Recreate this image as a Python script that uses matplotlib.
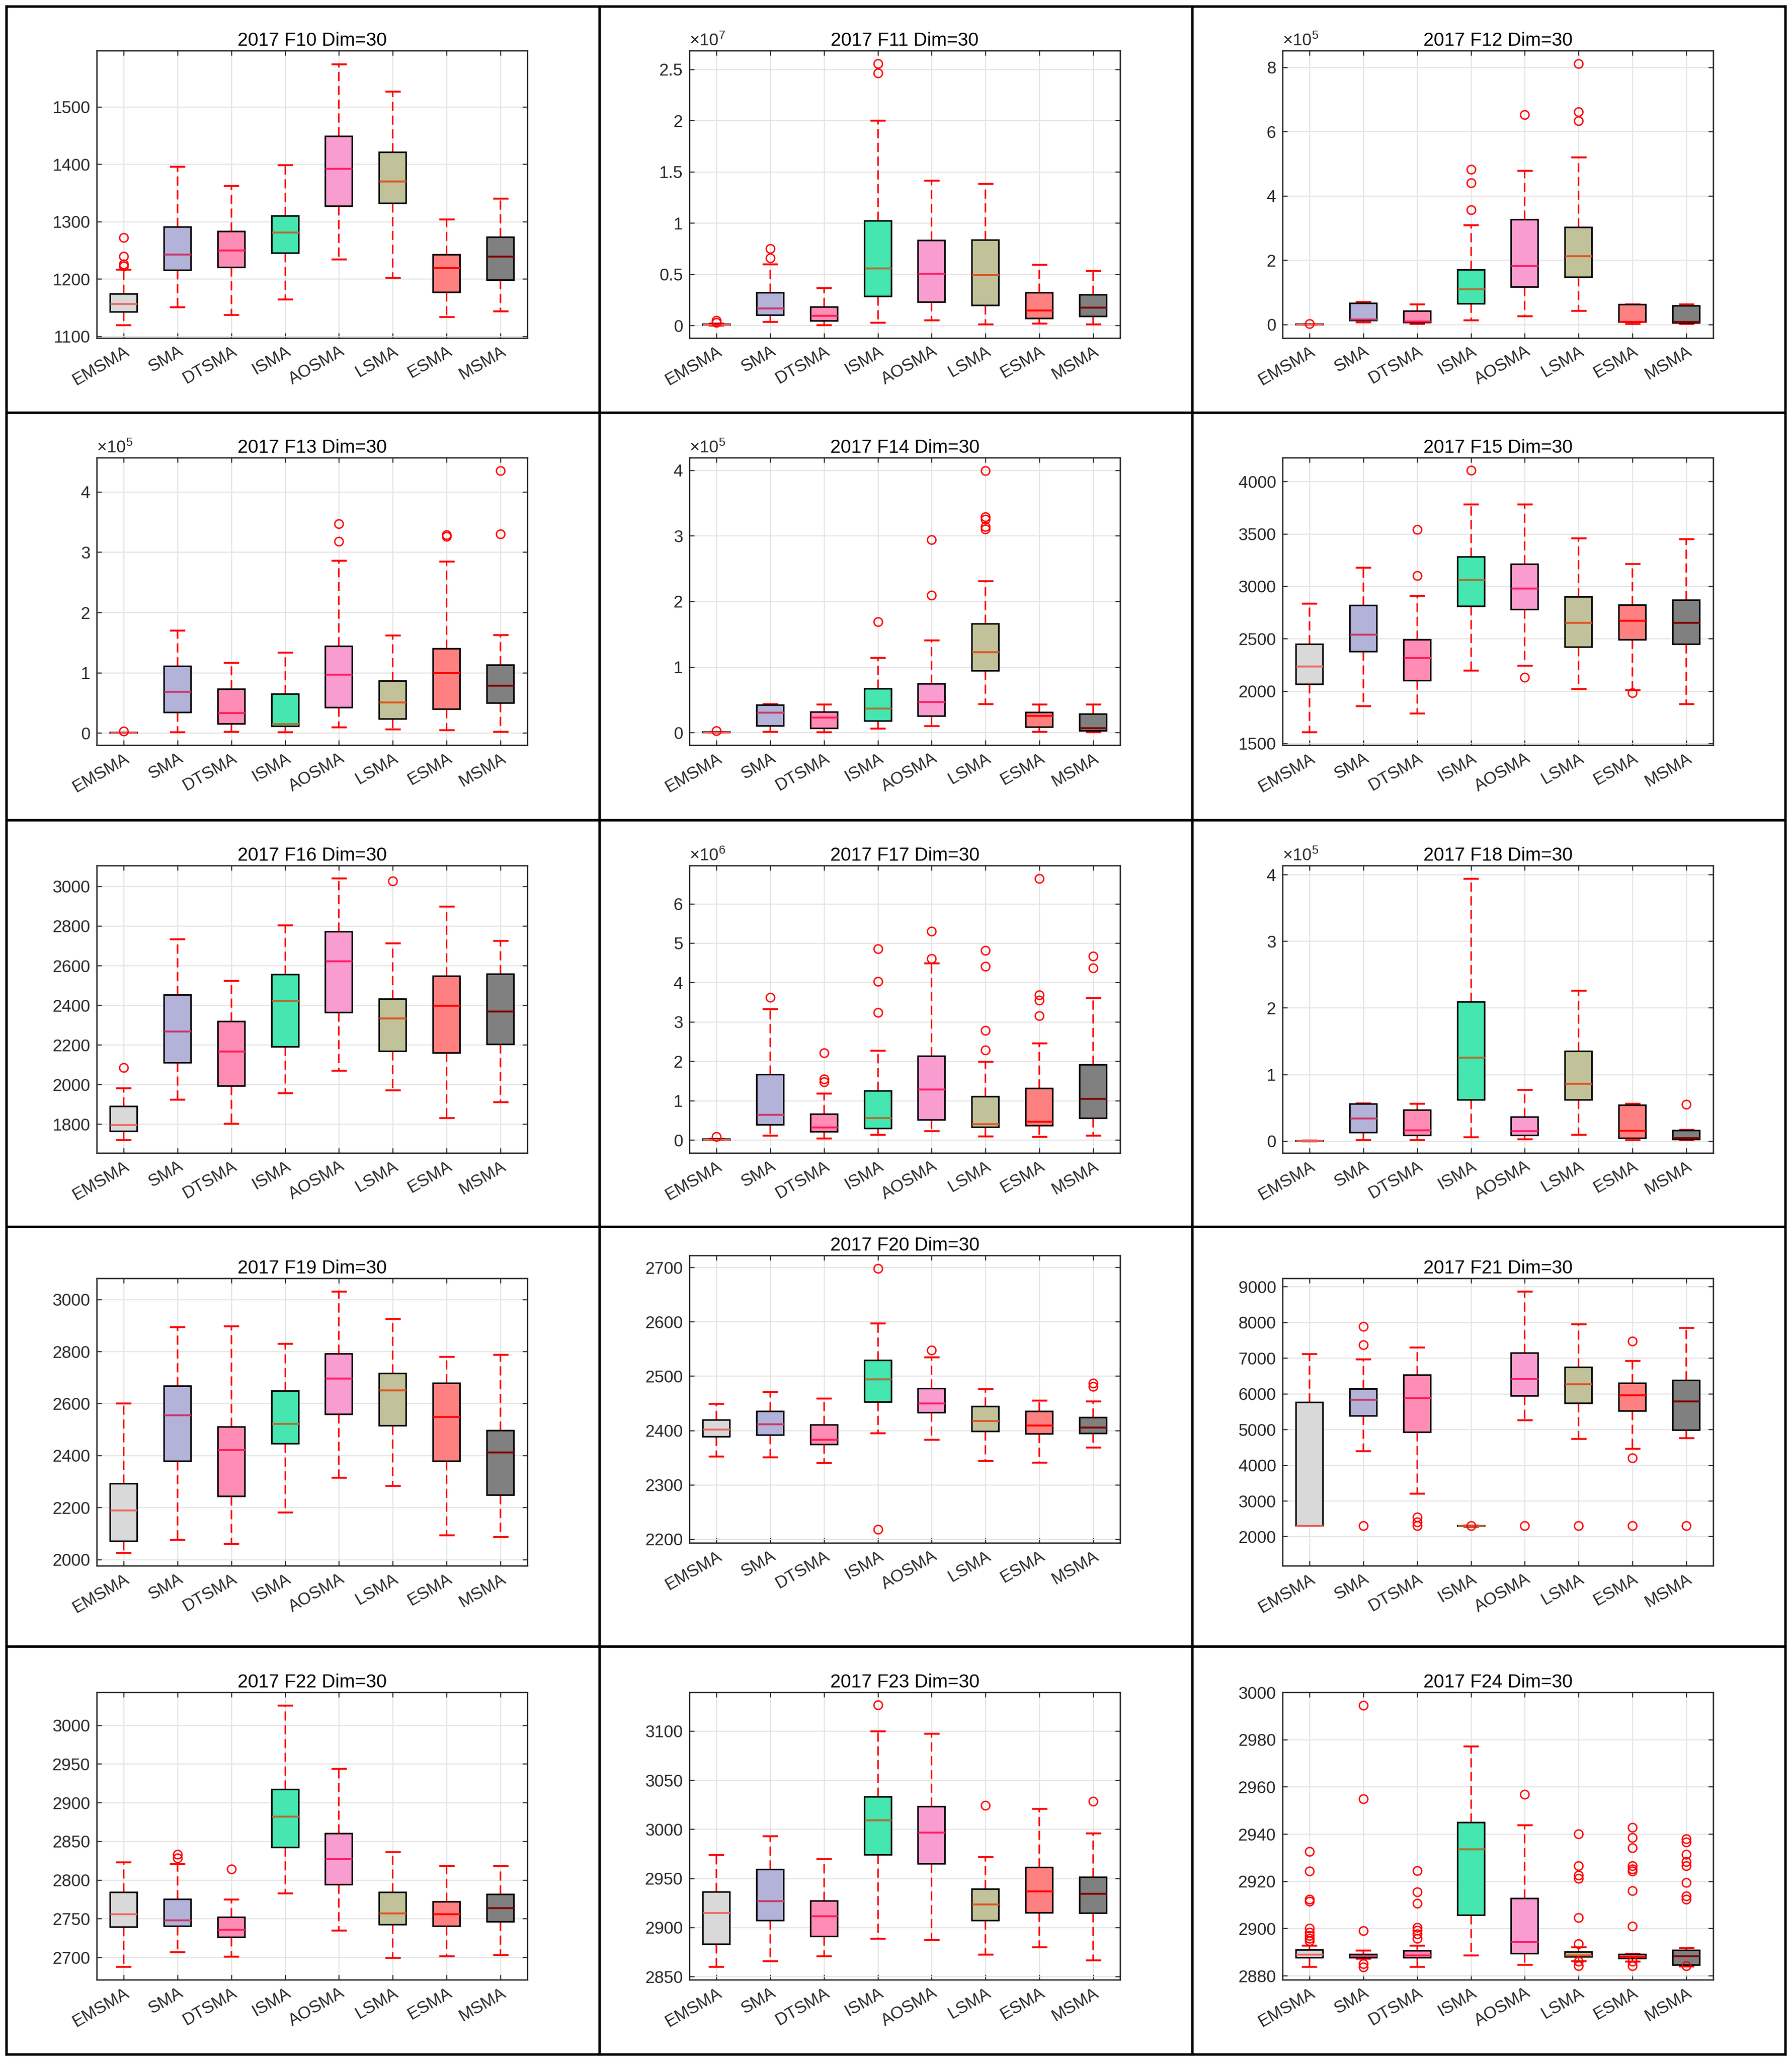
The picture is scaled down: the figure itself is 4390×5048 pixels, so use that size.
import matplotlib
matplotlib.use('Agg')
import matplotlib.pyplot as plt
from matplotlib.lines import Line2D
from matplotlib.transforms import ScaledTranslation
from matplotlib.ticker import FuncFormatter, FixedLocator

plt.rcParams['font.family'] = ['Liberation Sans', 'DejaVu Sans']
plt.rcParams['mathtext.fontset'] = 'custom'
plt.rcParams['mathtext.rm'] = 'Liberation Sans'
plt.rcParams['mathtext.it'] = 'Liberation Sans:italic'

ALGOS = ['EMSMA', 'SMA', 'DTSMA', 'ISMA', 'AOSMA', 'LSMA', 'ESMA', 'MSMA']
FILL = ['#d9d9d9', '#b3b3d9', '#ff8cb4', '#45e6b0', '#f99ccf', '#c2c29a', '#ff8080', '#808080']
MEDC = ['#f0645f', '#cc3366', '#ff1a50', '#b36b2e', '#ff1a66', '#e05020', '#ff0000', '#800000']

# ---------------- data ----------------
F10_LO = [1119.7, 1150.8, 1137.5, 1164.5, 1234.6, 1202, 1134, 1144]
F10_Q1 = [1142.6, 1215.3, 1220, 1245, 1327, 1332, 1176.4, 1198]
F10_MED = [1156.8, 1242.8, 1250, 1281, 1392, 1370, 1219.5, 1239.6]
F10_Q3 = [1173.7, 1290.4, 1283, 1310, 1448.7, 1420.8, 1242.3, 1273]
F10_HI = [1216.7, 1396, 1362.7, 1398.4, 1574.6, 1526.5, 1304, 1340.3]
F10_OUT = [[1272, 1239, 1226, 1222], [], [], [], [], [], [], []]

F11_LO = [0.002e7, 0.037e7, 0.006e7, 0.028e7, 0.055e7, 0.014e7, 0.02e7, 0.014e7]
F11_Q1 = [0.005e7, 0.10e7, 0.047e7, 0.285e7, 0.23e7, 0.197e7, 0.071e7, 0.088e7]
F11_MED = [0.008e7, 0.17e7, 0.096e7, 0.56e7, 0.507e7, 0.495e7, 0.147e7, 0.177e7]
F11_Q3 = [0.012e7, 0.32e7, 0.18e7, 1.02e7, 0.83e7, 0.835e7, 0.32e7, 0.30e7]
F11_HI = [0.02e7, 0.60e7, 0.37e7, 2.0e7, 1.415e7, 1.384e7, 0.597e7, 0.537e7]
F11_OUT = [[0.05e7, 0.03e7], [0.75e7, 0.66e7], [], [2.555e7, 2.463e7], [], [], [], []]

F12_LO = [0.0, 0.08e5, 0.02e5, 0.14e5, 0.26e5, 0.435e5, 0.02e5, 0.02e5]
F12_Q1 = [0.002e5, 0.13e5, 0.065e5, 0.65e5, 1.17e5, 1.47e5, 0.08e5, 0.05e5]
F12_MED = [0.004e5, 0.16e5, 0.10e5, 1.10e5, 1.83e5, 2.13e5, 0.09e5, 0.085e5]
F12_Q3 = [0.008e5, 0.66e5, 0.42e5, 1.70e5, 3.26e5, 3.02e5, 0.62e5, 0.58e5]
F12_HI = [0.012e5, 0.71e5, 0.64e5, 3.10e5, 4.79e5, 5.20e5, 0.64e5, 0.64e5]
F12_OUT = [[0.02e5], [], [], [4.83e5, 4.41e5, 3.57e5], [6.52e5], [8.11e5, 6.62e5, 6.33e5], [], []]

F13_LO = [0.0, 0.014e5, 0.024e5, 0.014e5, 0.10e5, 0.066e5, 0.052e5, 0.024e5]
F13_Q1 = [0.002e5, 0.34e5, 0.15e5, 0.11e5, 0.42e5, 0.23e5, 0.394e5, 0.50e5]
F13_MED = [0.004e5, 0.69e5, 0.335e5, 0.15e5, 0.974e5, 0.51e5, 1.0e5, 0.79e5]
F13_Q3 = [0.008e5, 1.11e5, 0.73e5, 0.646e5, 1.44e5, 0.864e5, 1.40e5, 1.13e5]
F13_HI = [0.012e5, 1.70e5, 1.17e5, 1.34e5, 2.86e5, 1.62e5, 2.85e5, 1.63e5]
F13_OUT = [[0.03e5], [], [], [], [3.47e5, 3.18e5], [], [3.29e5, 3.26e5], [4.35e5, 3.30e5]]

F14_LO = [0.0, 0.016e5, 0.01e5, 0.063e5, 0.105e5, 0.44e5, 0.016e5, 0.01e5]
F14_Q1 = [0.002e5, 0.10e5, 0.063e5, 0.175e5, 0.254e5, 0.943e5, 0.086e5, 0.025e5]
F14_MED = [0.004e5, 0.31e5, 0.23e5, 0.37e5, 0.47e5, 1.23e5, 0.26e5, 0.07e5]
F14_Q3 = [0.008e5, 0.42e5, 0.317e5, 0.667e5, 0.746e5, 1.657e5, 0.31e5, 0.28e5]
F14_HI = [0.012e5, 0.44e5, 0.43e5, 1.14e5, 1.41e5, 2.31e5, 0.43e5, 0.43e5]
F14_OUT = [[0.03e5], [], [], [1.69e5], [2.94e5, 2.095e5], [3.99e5, 3.29e5, 3.25e5, 3.14e5, 3.10e5], [], []]

F15_LO = [1607, 1858, 1786, 2196, 2245, 2021, 2009, 1878]
F15_Q1 = [2064, 2378, 2100, 2810, 2776, 2418, 2488, 2448]
F15_MED = [2235, 2541, 2319, 3062, 2979, 2651, 2671, 2653]
F15_Q3 = [2446, 2816, 2490, 3281, 3209, 2899, 2820, 2869]
F15_HI = [2835, 3177, 2911, 3783, 3781, 3461, 3213, 3450]
F15_OUT = [[], [], [3541, 3102], [4107], [2130], [], [1981], []]

F16_LO = [1720, 1925, 1802, 1958, 2070, 1972, 1831, 1912]
F16_Q1 = [1764, 2110, 1991, 2189, 2362, 2167, 2159, 2203]
F16_MED = [1796, 2268, 2167, 2422, 2622, 2335, 2398, 2369]
F16_Q3 = [1888, 2452, 2318, 2554, 2772, 2430, 2547, 2556]
F16_HI = [1982, 2733, 2523, 2805, 3041, 2714, 2899, 2726]
F16_OUT = [[2084], [], [], [], [], [3026], [], []]

F17_LO = [0.0, 0.12e6, 0.04e6, 0.14e6, 0.23e6, 0.10e6, 0.08e6, 0.12e6]
F17_Q1 = [0.005e6, 0.39e6, 0.21e6, 0.29e6, 0.51e6, 0.32e6, 0.36e6, 0.55e6]
F17_MED = [0.01e6, 0.64e6, 0.32e6, 0.56e6, 1.29e6, 0.41e6, 0.47e6, 1.05e6]
F17_Q3 = [0.02e6, 1.66e6, 0.65e6, 1.25e6, 2.13e6, 1.10e6, 1.31e6, 1.91e6]
F17_HI = [0.03e6, 3.33e6, 1.18e6, 2.27e6, 4.49e6, 1.99e6, 2.46e6, 3.61e6]
F17_OUT = [[0.08e6], [3.62e6], [2.21e6, 1.55e6, 1.47e6], [4.85e6, 4.03e6, 3.24e6],
           [5.30e6, 4.61e6], [4.81e6, 4.41e6, 2.78e6, 2.28e6],
           [6.64e6, 3.68e6, 3.55e6, 3.15e6], [4.67e6, 4.37e6]]

F18_LO = [0.0, 0.02e5, 0.02e5, 0.063e5, 0.031e5, 0.097e5, 0.02e5, 0.016e5]
F18_Q1 = [0.002e5, 0.128e5, 0.088e5, 0.62e5, 0.088e5, 0.62e5, 0.04e5, 0.025e5]
F18_MED = [0.004e5, 0.34e5, 0.166e5, 1.255e5, 0.15e5, 0.864e5, 0.156e5, 0.05e5]
F18_Q3 = [0.008e5, 0.557e5, 0.463e5, 2.09e5, 0.36e5, 1.346e5, 0.54e5, 0.16e5]
F18_HI = [0.012e5, 0.57e5, 0.563e5, 3.94e5, 0.77e5, 2.26e5, 0.563e5, 0.17e5]
F18_OUT = [[], [], [], [], [], [], [], [0.55e5]]

F19_LO = [2027, 2076, 2061, 2181, 2315, 2283, 2094, 2087]
F19_Q1 = [2070, 2378, 2243, 2445, 2559, 2515, 2378, 2248]
F19_MED = [2190, 2555, 2421, 2523, 2697, 2651, 2549, 2412]
F19_Q3 = [2292, 2666, 2510, 2648, 2791, 2715, 2677, 2496]
F19_HI = [2600, 2894, 2897, 2830, 3031, 2925, 2780, 2787]
F19_OUT = [[], [], [], [], [], [], [], []]

F20_LO = [2352.5, 2351, 2340, 2395, 2383, 2344, 2341, 2369]
F20_Q1 = [2388, 2391, 2374, 2452, 2433, 2398, 2394, 2394.6]
F20_MED = [2401.6, 2412, 2383, 2494, 2450, 2418, 2409.5, 2405.6]
F20_Q3 = [2419, 2435, 2410, 2529, 2477, 2444, 2435, 2424]
F20_HI = [2449, 2471, 2459, 2597, 2535, 2476, 2455, 2453.5]
F20_OUT = [[], [], [], [2698, 2218], [2548], [], [], [2487, 2481]]

F21_LO = [2300, 4399, 3211, 2285, 5270, 4733, 4459, 4757]
F21_Q1 = [2300, 5384, 4924, 2292, 5939, 5730, 5521, 4984]
F21_MED = [2300, 5831, 5879, 2300, 6416, 6273, 5957, 5790]
F21_Q3 = [5760, 6130, 6517, 2308, 7144, 6744, 6297, 6374]
F21_HI = [7120, 6971, 7305, 2315, 8869, 7956, 6923, 7848]
F21_OUT = [[], [7878, 7371, 2298], [2540, 2410, 2300], [2300], [2298], [2298],
           [7472, 4196, 2298], [2298]]

F22_LO = [2688, 2707, 2701, 2783, 2735, 2699.5, 2701.6, 2703]
F22_Q1 = [2739, 2740, 2726, 2842, 2794, 2742, 2740, 2746]
F22_MED = [2756, 2748, 2736, 2882, 2827, 2757, 2756, 2764]
F22_Q3 = [2784, 2775, 2752, 2917, 2860, 2784, 2772, 2781.5]
F22_HI = [2823, 2821, 2775, 3025.5, 2944, 2836, 2818, 2818]
F22_OUT = [[], [2833, 2828], [2814], [], [], [], [], []]

F23_LO = [2860, 2866, 2871, 2888.6, 2887.5, 2872.7, 2880, 2866.8]
F23_Q1 = [2883, 2907, 2891, 2974, 2965, 2907, 2915, 2914.5]
F23_MED = [2915, 2927, 2911.5, 3009.5, 2997, 2923.6, 2937, 2934.6]
F23_Q3 = [2936, 2959, 2927, 3033, 3023, 2939, 2961, 2951]
F23_HI = [2974, 2993, 2970, 3100, 3097.5, 2972, 3021, 2996]
F23_OUT = [[], [], [], [3126.7], [], [3024.3], [], [3028.5]]

F24_LO = [2883.8, 2887.3, 2883.8, 2888.6, 2884.7, 2886.2, 2886, 2884]
F24_Q1 = [2887.7, 2887.7, 2887.7, 2905.6, 2889.3, 2887.9, 2887.3, 2884.5]
F24_MED = [2889, 2888.5, 2888.6, 2933.7, 2894.3, 2888.6, 2888.2, 2888.4]
F24_Q3 = [2891, 2889, 2890.6, 2944.8, 2912.7, 2890, 2889, 2890.8]
F24_HI = [2892.8, 2890.8, 2892.8, 2977.1, 2943.8, 2892.1, 2889.3, 2891.7]
F24_OUT = [[2932.6, 2924.3, 2912.4, 2911.5, 2900, 2898.3, 2897, 2895.7, 2894.8],
           [2994.4, 2954.9, 2899, 2885.1, 2883.6],
           [2924.5, 2915.5, 2910.6, 2900.5, 2899.2, 2897.7, 2895.7],
           [],
           [2956.7],
           [2940, 2926.5, 2922.5, 2921.2, 2904.6, 2893.5, 2886, 2884.2],
           [2942.8, 2938.4, 2934.2, 2926.5, 2925.2, 2924.3, 2915.9, 2901, 2886, 2884.2],
           [2937.9, 2936.6, 2931.3, 2928.2, 2926.5, 2919.4, 2913.7, 2912.4, 2884.2]]

# y-axis settings per panel: ticks, limits, exponent of the multiplier
F10_YT = [1100, 1200, 1300, 1400, 1500]; F10_YL = (1097, 1598); F10_EXP = 0
F11_YT = [0, 0.5e7, 1e7, 1.5e7, 2e7, 2.5e7]; F11_YL = (-0.122e7, 2.683e7); F11_EXP = 7
F12_YT = [0, 2e5, 4e5, 6e5, 8e5]; F12_YL = (-0.42e5, 8.52e5); F12_EXP = 5
F13_YT = [0, 1e5, 2e5, 3e5, 4e5]; F13_YL = (-0.2e5, 4.567e5); F13_EXP = 5
F14_YT = [0, 1e5, 2e5, 3e5, 4e5]; F14_YL = (-0.19e5, 4.19e5); F14_EXP = 5
F15_YT = [1500, 2000, 2500, 3000, 3500, 4000]; F15_YL = (1484, 4227); F15_EXP = 0
F16_YT = [1800, 2000, 2200, 2400, 2600, 2800, 3000]; F16_YL = (1654, 3105); F16_EXP = 0
F17_YT = [0, 1e6, 2e6, 3e6, 4e6, 5e6, 6e6]; F17_YL = (-0.33e6, 6.97e6); F17_EXP = 6
F18_YT = [0, 1e5, 2e5, 3e5, 4e5]; F18_YL = (-0.178e5, 4.135e5); F18_EXP = 5
F19_YT = [2000, 2200, 2400, 2600, 2800, 3000]; F19_YL = (1976, 3081); F19_EXP = 0
F20_YT = [2200, 2300, 2400, 2500, 2600, 2700]; F20_YL = (2193, 2722); F20_EXP = 0
F21_YT = [2000, 3000, 4000, 5000, 6000, 7000, 8000, 9000]; F21_YL = (1182, 9233); F21_EXP = 0
F22_YT = [2700, 2750, 2800, 2850, 2900, 2950, 3000]; F22_YL = (2671, 3042.5); F22_EXP = 0
F23_YT = [2850, 2900, 2950, 3000, 3050, 3100]; F23_YL = (2846.8, 3139.4); F23_EXP = 0
F24_YT = [2880, 2900, 2920, 2940, 2960, 2980, 3000]; F24_YL = (2878.3, 3000); F24_EXP = 0

PANELS = [
    ('F10', F10_LO, F10_Q1, F10_MED, F10_Q3, F10_HI, F10_OUT, F10_YT, F10_YL, F10_EXP),
    ('F11', F11_LO, F11_Q1, F11_MED, F11_Q3, F11_HI, F11_OUT, F11_YT, F11_YL, F11_EXP),
    ('F12', F12_LO, F12_Q1, F12_MED, F12_Q3, F12_HI, F12_OUT, F12_YT, F12_YL, F12_EXP),
    ('F13', F13_LO, F13_Q1, F13_MED, F13_Q3, F13_HI, F13_OUT, F13_YT, F13_YL, F13_EXP),
    ('F14', F14_LO, F14_Q1, F14_MED, F14_Q3, F14_HI, F14_OUT, F14_YT, F14_YL, F14_EXP),
    ('F15', F15_LO, F15_Q1, F15_MED, F15_Q3, F15_HI, F15_OUT, F15_YT, F15_YL, F15_EXP),
    ('F16', F16_LO, F16_Q1, F16_MED, F16_Q3, F16_HI, F16_OUT, F16_YT, F16_YL, F16_EXP),
    ('F17', F17_LO, F17_Q1, F17_MED, F17_Q3, F17_HI, F17_OUT, F17_YT, F17_YL, F17_EXP),
    ('F18', F18_LO, F18_Q1, F18_MED, F18_Q3, F18_HI, F18_OUT, F18_YT, F18_YL, F18_EXP),
    ('F19', F19_LO, F19_Q1, F19_MED, F19_Q3, F19_HI, F19_OUT, F19_YT, F19_YL, F19_EXP),
    ('F20', F20_LO, F20_Q1, F20_MED, F20_Q3, F20_HI, F20_OUT, F20_YT, F20_YL, F20_EXP),
    ('F21', F21_LO, F21_Q1, F21_MED, F21_Q3, F21_HI, F21_OUT, F21_YT, F21_YL, F21_EXP),
    ('F22', F22_LO, F22_Q1, F22_MED, F22_Q3, F22_HI, F22_OUT, F22_YT, F22_YL, F22_EXP),
    ('F23', F23_LO, F23_Q1, F23_MED, F23_Q3, F23_HI, F23_OUT, F23_YT, F23_YL, F23_EXP),
    ('F24', F24_LO, F24_Q1, F24_MED, F24_Q3, F24_HI, F24_OUT, F24_YT, F24_YL, F24_EXP),
]

# ---------------- layout (pixels of the 4390 x 5048 canvas) ----------------
W, H = 4390, 5048
DPI = 300
fig = plt.figure(figsize=(W / DPI, H / DPI), dpi=DPI)
fig.patch.set_facecolor('white')

COL_LEFT = [237, 1689, 3142]
ROW_TOP = [124, 1121, 2120, 3131, 4145]
AX_W, AX_H = 1055, 704
AXC = '#262626'


def make_formatter(exp):
    scale = 10.0 ** exp
    return FuncFormatter(lambda v, p: ('%g' % round(v / scale, 6)))


for k, (name, lo, q1, med, q3, hi, out, yt, yl, exp) in enumerate(PANELS):
    r, c = divmod(k, 3)
    top = ROW_TOP[r] - (56 if name == 'F20' else 0)
    left = COL_LEFT[c]
    ax = fig.add_axes([left / W, 1 - (top + AX_H) / H, AX_W / W, AX_H / H])
    stats = [dict(whislo=lo[i], q1=q1[i], med=med[i], q3=q3[i], whishi=hi[i],
                  fliers=out[i], label=ALGOS[i]) for i in range(len(ALGOS))]
    b = ax.bxp(stats, positions=list(range(1, 9)), widths=0.5, capwidths=0.25,
               patch_artist=True, showfliers=True,
               boxprops=dict(edgecolor='black', linewidth=0.9),
               whiskerprops=dict(color='red', linestyle=(0, (6, 3)), linewidth=0.9),
               capprops=dict(color='red', linewidth=1.1),
               medianprops=dict(linewidth=1.1),
               flierprops=dict(marker='o', markerfacecolor='none', markeredgecolor='red',
                               markersize=5, markeredgewidth=0.8, linestyle='none'))
    for i, p in enumerate(b['boxes']):
        p.set_facecolor(FILL[i])
        p.set_zorder(2.2)
    for i, m in enumerate(b['medians']):
        m.set_color(MEDC[i])
        m.set_zorder(2.5)
    for f in b['fliers']:
        f.set_zorder(2.6)

    ax.set_xlim(0.5, 8.5)
    ax.set_ylim(*yl)
    ax.yaxis.set_major_locator(FixedLocator(yt))
    ax.yaxis.set_major_formatter(make_formatter(exp))
    ax.set_xticks(list(range(1, 9)))
    ax.set_xticklabels(ALGOS, rotation=30, ha='right', va='top', rotation_mode='anchor')
    off = ScaledTranslation(4 / 72, -5 / 72, fig.dpi_scale_trans)
    for lab in ax.get_xticklabels():
        lab.set_transform(lab.get_transform() + off)

    ax.grid(True, color='#e3e3e3', linewidth=0.6)
    ax.set_axisbelow(True)
    ax.tick_params(direction='in', top=True, right=True, length=2.8, width=0.6,
                   labelsize=10, color=AXC, labelcolor=AXC)
    ax.tick_params(axis='x', pad=3)
    ax.tick_params(axis='y', pad=3.8)
    for s in ax.spines.values():
        s.set_color(AXC)
        s.set_linewidth(0.8)

    ax.set_title('2017 %s Dim=30' % name, fontsize=11, pad=2.9, color='black')
    if exp:
        ax.text(0, 1, r'$\times10^{%d}$' % exp, transform=ax.transAxes +
                ScaledTranslation(0, 2.9 / 72, fig.dpi_scale_trans),
                ha='left', va='baseline', fontsize=10, color=AXC)

# ---------------- panel borders ----------------
XS = [16, 1469, 2921, 4374]
YS = [16, 1011, 2009, 3005, 4033, 5032]
for x in XS:
    fig.add_artist(Line2D([x / W, x / W], [1 - YS[0] / H, 1 - YS[-1] / H],
                          transform=fig.transFigure, color='black', linewidth=1.5))
for y in YS:
    fig.add_artist(Line2D([XS[0] / W, XS[-1] / W], [1 - y / H, 1 - y / H],
                          transform=fig.transFigure, color='black', linewidth=1.5))

fig.savefig('out.png', dpi=DPI, facecolor='white')
